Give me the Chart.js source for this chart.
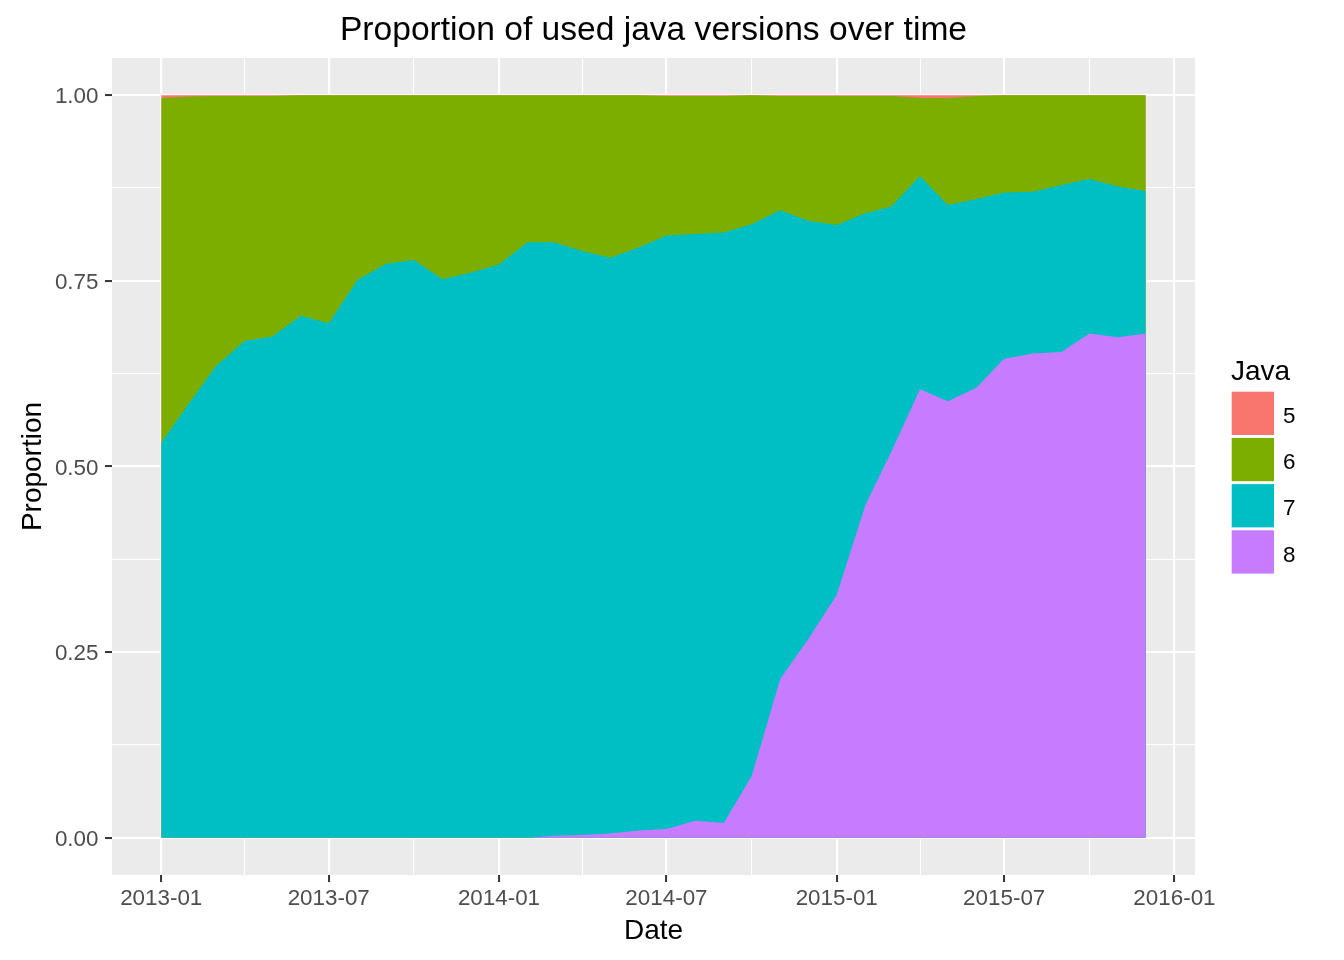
<!DOCTYPE html>
<html>
<head>
<meta charset="utf-8">
<script src="https://cdn.jsdelivr.net/npm/chart.js@4.4.1/dist/chart.umd.min.js"></script>
<style>
  html, body { margin: 0; padding: 0; background: #ffffff; }
  canvas { display: block; }
</style>
</head>
<body>
<canvas id="c" width="1344" height="960"></canvas>
<script>
// ---------------- data ----------------
const months = [
  "2013-01","2013-02","2013-03","2013-04","2013-05","2013-06","2013-07","2013-08","2013-09","2013-10","2013-11","2013-12",
  "2014-01","2014-02","2014-03","2014-04","2014-05","2014-06","2014-07","2014-08","2014-09","2014-10","2014-11","2014-12",
  "2015-01","2015-02","2015-03","2015-04","2015-05","2015-06","2015-07","2015-08","2015-09","2015-10","2015-11","2015-12"
];
const java5 = [0.004,0.002,0.001,0.001,0.001,0,0,0,0,0,0,0,
               0,0,0,0,0,0,0.001,0.001,0.001,0,0.001,0.001,
               0.001,0.001,0.001,0.004,0.004,0.001,0,0,0,0,0,0];
const java6 = [0.464,0.411,0.364,0.330,0.324,0.297,0.307,0.249,0.227,0.222,0.248,0.239,
               0.228,0.198,0.198,0.210,0.219,0.205,0.188,0.186,0.184,0.174,0.154,0.168,
               0.174,0.158,0.149,0.105,0.144,0.139,0.131,0.130,0.121,0.113,0.123,0.129];
const java7 = [0.532,0.587,0.635,0.669,0.675,0.703,0.693,0.751,0.773,0.778,0.752,0.761,
               0.772,0.802,0.799,0.786,0.775,0.785,0.799,0.790,0.795,0.743,0.631,0.564,
               0.498,0.393,0.330,0.287,0.264,0.254,0.224,0.218,0.225,0.208,0.203,0.192];
const java8 = [0,0,0,0,0,0,0,0,0,0,0,0,
               0,0,0.003,0.004,0.006,0.010,0.012,0.023,0.020,0.083,0.214,0.267,
               0.327,0.448,0.520,0.604,0.588,0.606,0.645,0.652,0.654,0.679,0.674,0.679];

const xTickLabels = ["2013-01","2013-07","2014-01","2014-07","2015-01","2015-07","2016-01"];
const yTickValues = [0, 0.25, 0.5, 0.75, 1];
const yTickLabels = ["0.00","0.25","0.50","0.75","1.00"];

const chartTitle = "Proportion of used java versions over time";
const xTitle = "Date";
const yTitle = "Proportion";
const legendTitle = "Java";

// stacking order bottom -> top
const seriesNames  = ["8", "7", "6", "5"];
const seriesValues = [java8, java7, java6, java5];
const seriesColors = ["#C77CFF", "#00BFC4", "#7CAE00", "#F8766D"];

// ---------------- helpers ----------------
const FONT = '"Liberation Sans", Arial, Helvetica, sans-serif';
Chart.defaults.font.family = FONT;

const DAY = 86400000;
const origin = Date.UTC(2013, 0, 1);
function dayOf(ym) {
  const [y, m] = ym.split("-").map(Number);
  return (Date.UTC(y, m - 1, 1) - origin) / DAY;
}
const xs = months.map(dayOf);
const xMajor = xTickLabels.map(dayOf);
const xMinor = [];
for (let i = 0; i < xMajor.length - 1; i++) xMinor.push((xMajor[i] + xMajor[i + 1]) / 2);
const xTicksAll = xMajor.concat(xMinor).sort((a, b) => a - b);
const dataMin = xs[0], dataMax = xs[xs.length - 1];
const xPad = (dataMax - dataMin) * 0.05;

const yMinor = [];
for (let i = 0; i < yTickValues.length - 1; i++) yMinor.push((yTickValues[i] + yTickValues[i + 1]) / 2);
const yTicksAll = yTickValues.concat(yMinor).sort((a, b) => a - b);

const isMajorX = v => xMajor.some(m => Math.abs(m - v) < 1e-6);
const isMajorY = v => yTickValues.some(m => Math.abs(m - v) < 1e-9);

// ---------------- plugins ----------------
const panelPlugin = {
  id: "panel",
  beforeDraw(chart) {
    const { ctx, chartArea: a } = chart;
    ctx.save();
    ctx.fillStyle = "#FFFFFF";
    ctx.fillRect(0, 0, chart.width, chart.height);
    ctx.fillStyle = "#EBEBEB";
    ctx.fillRect(a.left, a.top, a.right - a.left, a.bottom - a.top);
    ctx.restore();
  },
  afterDraw(chart) {
    const { ctx, chartArea: a } = chart;
    ctx.save();
    // title
    ctx.fillStyle = "#000000";
    ctx.font = "33.6px " + FONT;
    ctx.textAlign = "center";
    ctx.textBaseline = "alphabetic";
    ctx.fillText(chartTitle, (a.left + a.right) / 2, 40);
    // legend
    ctx.textAlign = "left";
    ctx.font = "28px " + FONT;
    ctx.fillText(legendTitle, 1231, 380);
    ctx.font = "22.4px " + FONT;
    ctx.textBaseline = "middle";
    const ds = chart.data.datasets.slice().reverse();
    ds.forEach((d, i) => {
      const top = 391.7 + i * 46.2;
      ctx.fillStyle = d.backgroundColor;
      ctx.fillRect(1231.7, top, 42.3, 43.3);
      ctx.fillStyle = "#000000";
      ctx.fillText(d.label, 1283, top + 21.6 + 3.5);
    });
    ctx.restore();
  }
};

// ---------------- chart ----------------
new Chart(document.getElementById("c"), {
  type: "line",
  data: {
    datasets: seriesNames.map((name, k) => ({
      label: name,
      data: xs.map((x, i) => ({ x: x, y: seriesValues[k][i] })),
      backgroundColor: seriesColors[k],
      borderColor: "rgba(0,0,0,0)",
      borderWidth: 0,
      pointRadius: 0,
      pointHoverRadius: 0,
      tension: 0,
      fill: "origin"
    }))
  },
  options: {
    responsive: false,
    animation: false,
    devicePixelRatio: 1,
    layout: { padding: { top: 58, right: 149, bottom: 0, left: 0 } },
    plugins: {
      legend: { display: false },
      title: { display: false },
      tooltip: { enabled: false }
    },
    scales: {
      x: {
        type: "linear",
        min: dataMin - xPad,
        max: dataMax + xPad,
        afterBuildTicks: s => { s.ticks = xTicksAll.map(v => ({ value: v })); },
        afterFit: s => { s.height = 85; },
        border: { display: false },
        grid: {
          color: "#FFFFFF",
          lineWidth: c => (c.tick && isMajorX(c.tick.value)) ? 2.1 : 1.05,
          tickLength: 7,
          tickWidth: 2,
          tickColor: c => (c.tick && isMajorX(c.tick.value)) ? "#333333" : "rgba(0,0,0,0)"
        },
        ticks: {
          autoSkip: false, maxRotation: 0, minRotation: 0,
          padding: 6,
          color: "#4D4D4D",
          font: { size: 22.4, lineHeight: 1 },
          callback: v => { const i = xMajor.findIndex(m => Math.abs(m - v) < 1e-6); return i >= 0 ? xTickLabels[i] : ""; }
        },
        title: {
          display: true, text: xTitle, color: "#000000",
          font: { size: 28, lineHeight: 1 },
          padding: { top: 0, bottom: 15 }
        }
      },
      y: {
        type: "linear",
        stacked: true,
        min: -0.05,
        max: 1.05,
        afterBuildTicks: s => { s.ticks = yTicksAll.map(v => ({ value: v })); },
        afterFit: s => { s.width = 112; },
        border: { display: false },
        grid: {
          color: "#FFFFFF",
          lineWidth: c => (c.tick && isMajorY(c.tick.value)) ? 2.1 : 1.05,
          tickLength: 7,
          tickWidth: 2,
          tickColor: c => (c.tick && isMajorY(c.tick.value)) ? "#333333" : "rgba(0,0,0,0)"
        },
        ticks: {
          padding: 6.5,
          labelOffset: 2,
          color: "#4D4D4D",
          font: { size: 22.4, lineHeight: 1 },
          callback: v => { const i = yTickValues.findIndex(m => Math.abs(m - v) < 1e-9); return i >= 0 ? yTickLabels[i] : ""; }
        },
        title: {
          display: true, text: yTitle, color: "#000000",
          font: { size: 28, lineHeight: 1 },
          padding: { top: 19, bottom: 0 }
        }
      }
    }
  },
  plugins: [panelPlugin]
});
</script>
</body>
</html>
